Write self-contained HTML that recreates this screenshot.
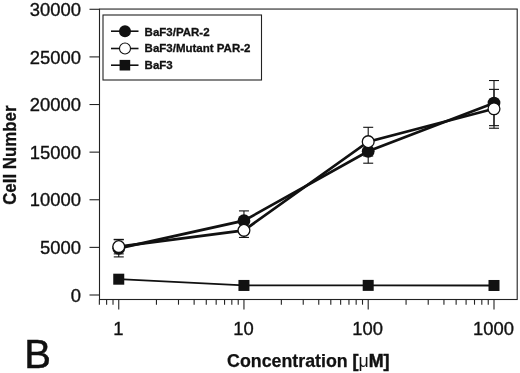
<!DOCTYPE html><html><head><meta charset="utf-8"><style>html,body{margin:0;padding:0;background:#fff}svg{display:block}text{font-family:"Liberation Sans",Arial,sans-serif;fill:#111}</style></head><body>
<svg width="520" height="373" viewBox="0 0 520 373">
<rect width="520" height="373" fill="#fff"/>
<rect x="99.5" y="9.05" width="417.70000000000005" height="290.45" fill="none" stroke="#222" stroke-width="1.1"/>
<line x1="89.5" x2="99.5" y1="295.00" y2="295.00" stroke="#222" stroke-width="1.1"/>
<text x="81" y="301.60" font-size="18.4" text-anchor="end" stroke="#111" stroke-width="0.35">0</text>
<line x1="89.5" x2="99.5" y1="247.38" y2="247.38" stroke="#222" stroke-width="1.1"/>
<text x="81" y="253.98" font-size="18.4" text-anchor="end" stroke="#111" stroke-width="0.35">5000</text>
<line x1="89.5" x2="99.5" y1="199.76" y2="199.76" stroke="#222" stroke-width="1.1"/>
<text x="81" y="206.36" font-size="18.4" text-anchor="end" stroke="#111" stroke-width="0.35">10000</text>
<line x1="89.5" x2="99.5" y1="152.14" y2="152.14" stroke="#222" stroke-width="1.1"/>
<text x="81" y="158.74" font-size="18.4" text-anchor="end" stroke="#111" stroke-width="0.35">15000</text>
<line x1="89.5" x2="99.5" y1="104.52" y2="104.52" stroke="#222" stroke-width="1.1"/>
<text x="81" y="111.12" font-size="18.4" text-anchor="end" stroke="#111" stroke-width="0.35">20000</text>
<line x1="89.5" x2="99.5" y1="56.90" y2="56.90" stroke="#222" stroke-width="1.1"/>
<text x="81" y="63.50" font-size="18.4" text-anchor="end" stroke="#111" stroke-width="0.35">25000</text>
<line x1="89.5" x2="99.5" y1="9.28" y2="9.28" stroke="#222" stroke-width="1.1"/>
<text x="81" y="15.88" font-size="18.4" text-anchor="end" stroke="#111" stroke-width="0.35">30000</text>
<line x1="99.36" x2="99.36" y1="299.5" y2="304.7" stroke="#222" stroke-width="1.1"/>
<line x1="106.62" x2="106.62" y1="299.5" y2="304.7" stroke="#222" stroke-width="1.1"/>
<line x1="113.02" x2="113.02" y1="299.5" y2="304.7" stroke="#222" stroke-width="1.1"/>
<line x1="118.75" x2="118.75" y1="299.5" y2="309.5" stroke="#222" stroke-width="1.1"/>
<line x1="156.44" x2="156.44" y1="299.5" y2="304.7" stroke="#222" stroke-width="1.1"/>
<line x1="178.49" x2="178.49" y1="299.5" y2="304.7" stroke="#222" stroke-width="1.1"/>
<line x1="194.13" x2="194.13" y1="299.5" y2="304.7" stroke="#222" stroke-width="1.1"/>
<line x1="206.26" x2="206.26" y1="299.5" y2="304.7" stroke="#222" stroke-width="1.1"/>
<line x1="216.17" x2="216.17" y1="299.5" y2="304.7" stroke="#222" stroke-width="1.1"/>
<line x1="224.56" x2="224.56" y1="299.5" y2="304.7" stroke="#222" stroke-width="1.1"/>
<line x1="231.82" x2="231.82" y1="299.5" y2="304.7" stroke="#222" stroke-width="1.1"/>
<line x1="238.22" x2="238.22" y1="299.5" y2="304.7" stroke="#222" stroke-width="1.1"/>
<line x1="243.95" x2="243.95" y1="299.5" y2="309.5" stroke="#222" stroke-width="1.1"/>
<line x1="281.35" x2="281.35" y1="299.5" y2="304.7" stroke="#222" stroke-width="1.1"/>
<line x1="303.23" x2="303.23" y1="299.5" y2="304.7" stroke="#222" stroke-width="1.1"/>
<line x1="318.76" x2="318.76" y1="299.5" y2="304.7" stroke="#222" stroke-width="1.1"/>
<line x1="330.80" x2="330.80" y1="299.5" y2="304.7" stroke="#222" stroke-width="1.1"/>
<line x1="340.64" x2="340.64" y1="299.5" y2="304.7" stroke="#222" stroke-width="1.1"/>
<line x1="348.95" x2="348.95" y1="299.5" y2="304.7" stroke="#222" stroke-width="1.1"/>
<line x1="356.16" x2="356.16" y1="299.5" y2="304.7" stroke="#222" stroke-width="1.1"/>
<line x1="362.51" x2="362.51" y1="299.5" y2="304.7" stroke="#222" stroke-width="1.1"/>
<line x1="368.20" x2="368.20" y1="299.5" y2="309.5" stroke="#222" stroke-width="1.1"/>
<line x1="406.07" x2="406.07" y1="299.5" y2="304.7" stroke="#222" stroke-width="1.1"/>
<line x1="428.22" x2="428.22" y1="299.5" y2="304.7" stroke="#222" stroke-width="1.1"/>
<line x1="443.94" x2="443.94" y1="299.5" y2="304.7" stroke="#222" stroke-width="1.1"/>
<line x1="456.13" x2="456.13" y1="299.5" y2="304.7" stroke="#222" stroke-width="1.1"/>
<line x1="466.09" x2="466.09" y1="299.5" y2="304.7" stroke="#222" stroke-width="1.1"/>
<line x1="474.51" x2="474.51" y1="299.5" y2="304.7" stroke="#222" stroke-width="1.1"/>
<line x1="481.81" x2="481.81" y1="299.5" y2="304.7" stroke="#222" stroke-width="1.1"/>
<line x1="488.24" x2="488.24" y1="299.5" y2="304.7" stroke="#222" stroke-width="1.1"/>
<line x1="494.00" x2="494.00" y1="299.5" y2="309.5" stroke="#222" stroke-width="1.1"/>
<text x="118.25" y="335" font-size="18.4" text-anchor="middle" stroke="#111" stroke-width="0.35">1</text>
<text x="243.45" y="335" font-size="18.4" text-anchor="middle" stroke="#111" stroke-width="0.35">10</text>
<text x="367.70" y="335" font-size="18.4" text-anchor="middle" stroke="#111" stroke-width="0.35">100</text>
<text x="493.50" y="335" font-size="18.4" text-anchor="middle" stroke="#111" stroke-width="0.35">1000</text>
<rect x="103" y="15" width="158.5" height="65" fill="#fff" stroke="#222" stroke-width="1.1"/>
<line x1="111" x2="138.5" y1="31.2" y2="31.2" stroke="#111" stroke-width="1.6"/>
<line x1="111" x2="138.5" y1="48.5" y2="48.5" stroke="#111" stroke-width="1.6"/>
<line x1="111" x2="138.5" y1="65.2" y2="65.2" stroke="#111" stroke-width="1.6"/>
<circle cx="125" cy="31.2" r="6" fill="#111"/>
<circle cx="125" cy="48.5" r="5.5" fill="#fff" stroke="#111" stroke-width="1.1"/>
<rect x="119.6" y="59.900000000000006" width="10.6" height="10.6" fill="#111"/>
<text x="144.6" y="35.5" font-size="11.5" font-weight="bold" stroke="#111" stroke-width="0.3">BaF3/PAR-2</text>
<text x="144.6" y="52.2" font-size="11.5" font-weight="bold" stroke="#111" stroke-width="0.3">BaF3/Mutant PAR-2</text>
<text x="144.6" y="69" font-size="11.5" font-weight="bold" stroke="#111" stroke-width="0.3">BaF3</text>
<line x1="118.75" x2="118.75" y1="248.33" y2="239.76" stroke="#111" stroke-width="1.1"/><line x1="113.75" x2="123.75" y1="239.76" y2="239.76" stroke="#111" stroke-width="1.1"/><line x1="118.75" x2="118.75" y1="248.33" y2="256.90" stroke="#111" stroke-width="1.1"/><line x1="113.75" x2="123.75" y1="256.90" y2="256.90" stroke="#111" stroke-width="1.1"/>
<line x1="243.95" x2="243.95" y1="220.67" y2="210.90" stroke="#111" stroke-width="1.1"/><line x1="238.95" x2="248.95" y1="210.90" y2="210.90" stroke="#111" stroke-width="1.1"/><line x1="243.95" x2="243.95" y1="220.67" y2="230.43" stroke="#111" stroke-width="1.1"/><line x1="238.95" x2="248.95" y1="230.43" y2="230.43" stroke="#111" stroke-width="1.1"/>
<line x1="368.20" x2="368.20" y1="151.34" y2="139.48" stroke="#111" stroke-width="1.1"/><line x1="363.20" x2="373.20" y1="139.48" y2="139.48" stroke="#111" stroke-width="1.1"/><line x1="368.20" x2="368.20" y1="151.34" y2="163.20" stroke="#111" stroke-width="1.1"/><line x1="363.20" x2="373.20" y1="163.20" y2="163.20" stroke="#111" stroke-width="1.1"/>
<line x1="494.00" x2="494.00" y1="103.09" y2="80.52" stroke="#111" stroke-width="1.1"/><line x1="489.00" x2="499.00" y1="80.52" y2="80.52" stroke="#111" stroke-width="1.1"/><line x1="494.00" x2="494.00" y1="103.09" y2="125.66" stroke="#111" stroke-width="1.1"/><line x1="489.00" x2="499.00" y1="125.66" y2="125.66" stroke="#111" stroke-width="1.1"/>
<line x1="118.75" x2="118.75" y1="246.62" y2="239.38" stroke="#111" stroke-width="1.1"/><line x1="113.75" x2="123.75" y1="239.38" y2="239.38" stroke="#111" stroke-width="1.1"/><line x1="118.75" x2="118.75" y1="246.62" y2="253.86" stroke="#111" stroke-width="1.1"/><line x1="113.75" x2="123.75" y1="253.86" y2="253.86" stroke="#111" stroke-width="1.1"/>
<line x1="243.95" x2="243.95" y1="230.37" y2="223.32" stroke="#111" stroke-width="1.1"/><line x1="238.95" x2="248.95" y1="223.32" y2="223.32" stroke="#111" stroke-width="1.1"/><line x1="243.95" x2="243.95" y1="230.37" y2="237.42" stroke="#111" stroke-width="1.1"/><line x1="238.95" x2="248.95" y1="237.42" y2="237.42" stroke="#111" stroke-width="1.1"/>
<line x1="368.20" x2="368.20" y1="141.66" y2="127.30" stroke="#111" stroke-width="1.1"/><line x1="363.20" x2="373.20" y1="127.30" y2="127.30" stroke="#111" stroke-width="1.1"/><line x1="368.20" x2="368.20" y1="141.66" y2="156.03" stroke="#111" stroke-width="1.1"/><line x1="363.20" x2="373.20" y1="156.03" y2="156.03" stroke="#111" stroke-width="1.1"/>
<line x1="494.00" x2="494.00" y1="108.81" y2="89.38" stroke="#111" stroke-width="1.1"/><line x1="489.00" x2="499.00" y1="89.38" y2="89.38" stroke="#111" stroke-width="1.1"/><line x1="494.00" x2="494.00" y1="108.81" y2="128.23" stroke="#111" stroke-width="1.1"/><line x1="489.00" x2="499.00" y1="128.23" y2="128.23" stroke="#111" stroke-width="1.1"/>
<polyline points="118.75,279.19 243.95,285.45 368.20,285.38 494.00,285.48" fill="none" stroke="#111" stroke-width="1.8"/>
<polyline points="118.75,248.33 243.95,220.67 368.20,151.34 494.00,103.09" fill="none" stroke="#111" stroke-width="2.7"/>
<polyline points="118.75,246.62 243.95,230.37 368.20,141.66 494.00,108.81" fill="none" stroke="#111" stroke-width="2.7"/>
<rect x="113.25" y="273.69" width="11" height="11" fill="#111"/>
<rect x="238.45" y="279.95" width="11" height="11" fill="#111"/>
<rect x="362.70" y="279.88" width="11" height="11" fill="#111"/>
<rect x="488.50" y="279.98" width="11" height="11" fill="#111"/>
<circle cx="118.75" cy="248.33" r="6.4" fill="#111"/>
<circle cx="243.95" cy="220.67" r="6.4" fill="#111"/>
<circle cx="368.20" cy="151.34" r="6.4" fill="#111"/>
<circle cx="494.00" cy="103.09" r="6.4" fill="#111"/>
<circle cx="118.75" cy="246.62" r="5.9" fill="#fff" stroke="#111" stroke-width="1.3"/>
<circle cx="243.95" cy="230.37" r="5.9" fill="#fff" stroke="#111" stroke-width="1.3"/>
<circle cx="368.20" cy="141.66" r="5.9" fill="#fff" stroke="#111" stroke-width="1.3"/>
<circle cx="494.00" cy="108.81" r="5.9" fill="#fff" stroke="#111" stroke-width="1.3"/>
<text x="308.3" y="366.8" font-size="17.8" text-anchor="middle" stroke="#111" stroke-width="0.25"><tspan font-weight="bold">Concentration </tspan><tspan font-weight="bold" stroke-width="0.5">[</tspan><tspan font-weight="normal" stroke="none">μ</tspan><tspan font-weight="bold" stroke-width="0.5">M]</tspan></text>
<text transform="translate(16.3,155.2) rotate(-90) scale(0.975,1.08)" font-size="17.3" font-weight="bold" stroke="#111" stroke-width="0.3" text-anchor="middle">Cell Number</text>
<text x="24.3" y="368" font-size="40" stroke="#111" stroke-width="0.5">B</text>
</svg></body></html>
